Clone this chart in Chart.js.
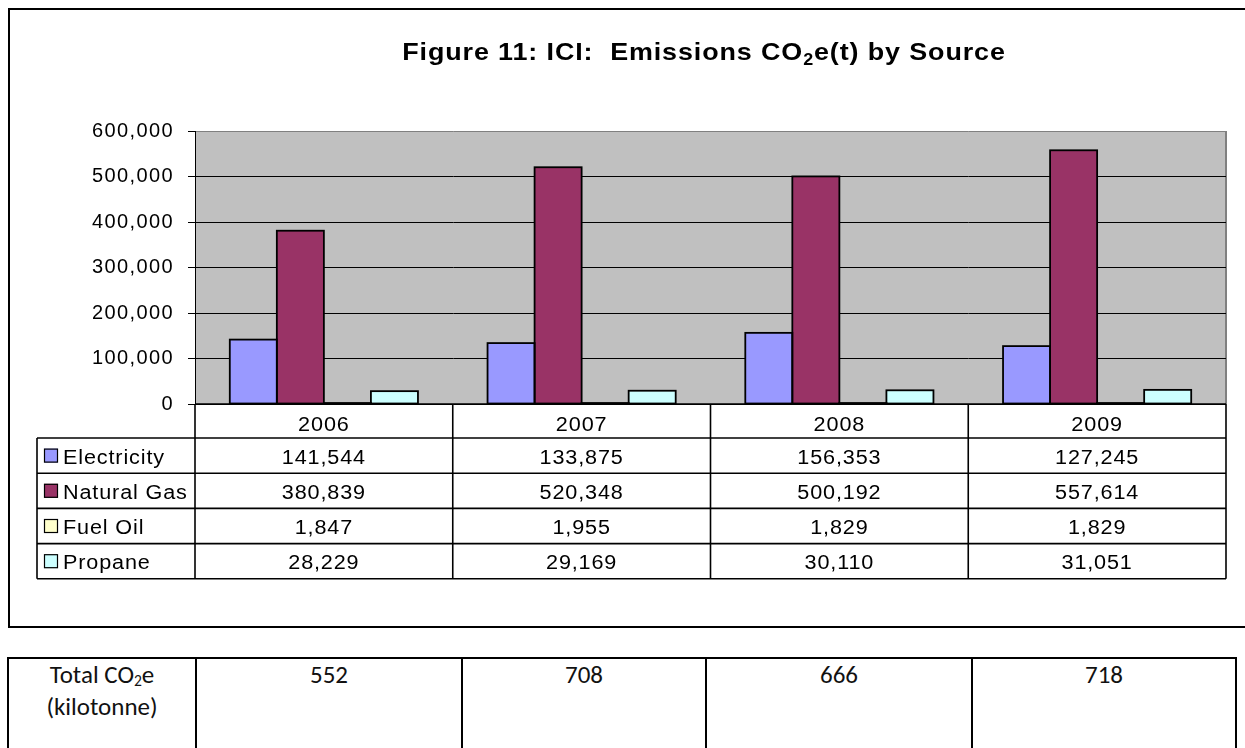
<!DOCTYPE html>
<html lang="en">
<head>
<meta charset="UTF-8">
<title>ICI: Emissions CO2e(t) by Source</title>
<script src="https://cdn.jsdelivr.net/npm/chart.js"></script>
<style>
  body { margin: 0; background: #fff; width: 1245px; height: 748px; overflow: hidden; position: relative; }
  #frame { position: absolute; left: 8px; top: 8px; width: 1300px; height: 616px; border: 2px solid #000; }
  #chart { position: absolute; left: 0; top: 0; }
  #totals { position: absolute; left: 7px; top: 657px; border-collapse: collapse; table-layout: fixed;
            font-family: Calibri, Carlito, Lato, sans-serif; font-size: 25px; color: #111; }
  #totals td { border: 2px solid #000; height: 120px; vertical-align: top; text-align: center;
               padding: 0; line-height: 32px; }
  #totals sub { font-size: 0.62em; line-height: 0; vertical-align: -0.2em; }
</style>
</head>
<body>
<div id="frame"></div>
<canvas id="chart" width="1245" height="640"></canvas>
<table id="totals">
  <colgroup>
    <col style="width:188px"><col style="width:266px"><col style="width:244px"><col style="width:266px"><col style="width:264px">
  </colgroup>
  <tr id="totals-row"><td>Total CO<sub>2</sub>e<br>(kilotonne)</td></tr>
</table>

<script>
const FONT = 'Arial, "Liberation Sans", sans-serif';

// emissions in tonnes CO2e, per year
const years = ['2006', '2007', '2008', '2009'];
const electricity = [141544, 133875, 156353, 127245];
const naturalGas = [380839, 520348, 500192, 557614];
const fuelOil = [1847, 1955, 1829, 1829];
const propane = [28229, 29169, 30110, 31051];
const yMax = 600000;
const yStep = 100000;

// totals in kilotonnes (table under the chart)
const totalsKt = [552, 708, 666, 718];

const series = [
  { label: 'Electricity', data: electricity, color: '#9999FF' },
  { label: 'Natural Gas', data: naturalGas, color: '#993366' },
  { label: 'Fuel Oil', data: fuelOil, color: '#FFFFCC' },
  { label: 'Propane', data: propane, color: '#CCFFFF' }
];

const fmt = v => v.toLocaleString('en-US');

// text drawn slightly stretched, the way the spreadsheet renders it
function wideText(ctx, text, x, y, align, stretch) {
  const w = ctx.measureText(text).width * stretch;
  let left = x;
  if (align === 'center') left = x - w / 2;
  else if (align === 'right') left = x - w;
  ctx.save();
  ctx.textAlign = 'left';
  ctx.translate(left, y);
  ctx.scale(stretch, 1);
  ctx.fillText(text, 0, 0);
  ctx.restore();
  return w;
}

// grey plot area behind the gridlines
const plotBackground = {
  id: 'plotBackground',
  beforeDraw(chart) {
    const { ctx, chartArea: a } = chart;
    ctx.save();
    ctx.fillStyle = '#C0C0C0';
    ctx.fillRect(a.left, a.top, a.right - a.left, a.bottom - a.top);
    ctx.strokeStyle = '#808080';
    ctx.lineWidth = 2;
    ctx.beginPath();
    ctx.moveTo(a.right, a.top);
    ctx.lineTo(a.right, a.bottom);
    ctx.stroke();
    ctx.restore();
    ctx.letterSpacing = '1.4px';
  }
};

// black outline round every bar, centred on its edge
const barOutline = {
  id: 'barOutline',
  afterDatasetsDraw(chart) {
    const ctx = chart.ctx;
    ctx.save();
    ctx.strokeStyle = '#000';
    ctx.lineWidth = 1.8;
    chart.data.datasets.forEach((_, di) => {
      chart.getDatasetMeta(di).data.forEach(bar => {
        const h = Math.max(bar.base - bar.y, 0.5);
        ctx.strokeRect(bar.x - bar.width / 2, bar.base - h, bar.width, h);
      });
    });
    ctx.restore();
  }
};

function drawTitle(ctx) {
  const stretch = 1.12;
  const parts = [
    { t: 'Figure 11: ICI:  Emissions CO', f: 'bold 24px ' + FONT, dy: 0 },
    { t: '2', f: 'bold 16px ' + FONT, dy: 5 },
    { t: 'e(t) by Source', f: 'bold 24px ' + FONT, dy: 0 }
  ];
  ctx.save();
  ctx.letterSpacing = '0.8px';
  ctx.fillStyle = '#000';
  ctx.textBaseline = 'alphabetic';
  let total = 0;
  parts.forEach(p => { ctx.font = p.f; p.w = ctx.measureText(p.t).width * stretch; total += p.w; });
  let x = 704 - total / 2;
  parts.forEach(p => { ctx.font = p.f; wideText(ctx, p.t, x, 60 + p.dy, 'left', stretch); x += p.w; });
  ctx.restore();
}

// data table under the x axis, columns follow the category scale
const dataTable = {
  id: 'dataTable',
  afterDraw(chart) {
    const { ctx, chartArea: a } = chart;
    const x = chart.scales.x;
    const half = (x.getPixelForValue(1) - x.getPixelForValue(0)) / 2;
    const edges = years.map((_, i) => x.getPixelForValue(i) - half);
    edges.push(x.getPixelForValue(years.length - 1) + half);

    const headerH = 34, rowH = 35.2, tableLeft = 37;
    const top = a.bottom;
    const rowsTop = top + headerH;
    const bottom = rowsTop + rowH * series.length;
    const stretch = 1.08;

    const line = (x1, y1, x2, y2) => { ctx.beginPath(); ctx.moveTo(x1, y1); ctx.lineTo(x2, y2); ctx.stroke(); };

    ctx.save();
    ctx.strokeStyle = '#000';
    ctx.lineWidth = 1.6;
    line(a.left, top, a.right, top);
    for (let r = 0; r <= series.length; r++) line(tableLeft, rowsTop + r * rowH, a.right, rowsTop + r * rowH);
    edges.forEach(e => line(e, top, e, bottom));
    line(tableLeft, rowsTop, tableLeft, bottom);

    ctx.font = '20px ' + FONT;
    ctx.letterSpacing = '0.8px';
    ctx.fillStyle = '#000';
    ctx.textBaseline = 'alphabetic';
    years.forEach((y, i) => wideText(ctx, y, x.getPixelForValue(i), top + headerH / 2 + 10, 'center', stretch));

    series.forEach((s, r) => {
      const cy = rowsTop + r * rowH + rowH / 2;
      ctx.fillStyle = s.color;
      ctx.fillRect(44, cy - 7, 14, 14);
      ctx.lineWidth = 1.2;
      ctx.strokeRect(44.5, cy - 6.5, 13, 13);
      ctx.fillStyle = '#000';
      wideText(ctx, s.label, 63, cy + 8, 'left', stretch);
      s.data.forEach((v, i) => wideText(ctx, fmt(v), x.getPixelForValue(i), cy + 8, 'center', stretch));
    });
    ctx.restore();

    drawTitle(ctx);
  }
};

new Chart(document.getElementById('chart'), {
  type: 'bar',
  data: {
    labels: years,
    datasets: series.map(s => ({
      label: s.label,
      data: s.data,
      backgroundColor: s.color,
      borderWidth: 0,
      categoryPercentage: 0.73,
      barPercentage: 1
    }))
  },
  options: {
    responsive: false,
    animation: false,
    layout: { padding: { top: 131, bottom: 236, left: 0, right: 19 } },
    plugins: { legend: { display: false }, title: { display: false }, tooltip: { enabled: false } },
    scales: {
      x: {
        ticks: { display: false },
        grid: { display: false },
        border: { display: false },
        afterFit: s => { s.height = 0; }
      },
      y: {
        min: 0,
        max: yMax,
        ticks: {
          stepSize: yStep,
          color: '#000',
          padding: 14,
          font: { family: FONT, size: 20 },
          callback: v => fmt(v)
        },
        grid: {
          color: c => (c.tick && c.tick.value === yMax ? '#808080' : '#000'),
          tickColor: '#000',
          tickLength: 7,
          lineWidth: 1
        },
        border: { color: '#000', width: 1 },
        afterFit: s => { s.width = 195; }
      }
    }
  },
  plugins: [plotBackground, barOutline, dataTable]
});

// totals row
const row = document.getElementById('totals-row');
totalsKt.forEach(v => {
  const td = document.createElement('td');
  td.textContent = v;
  row.appendChild(td);
});
</script>
</body>
</html>
